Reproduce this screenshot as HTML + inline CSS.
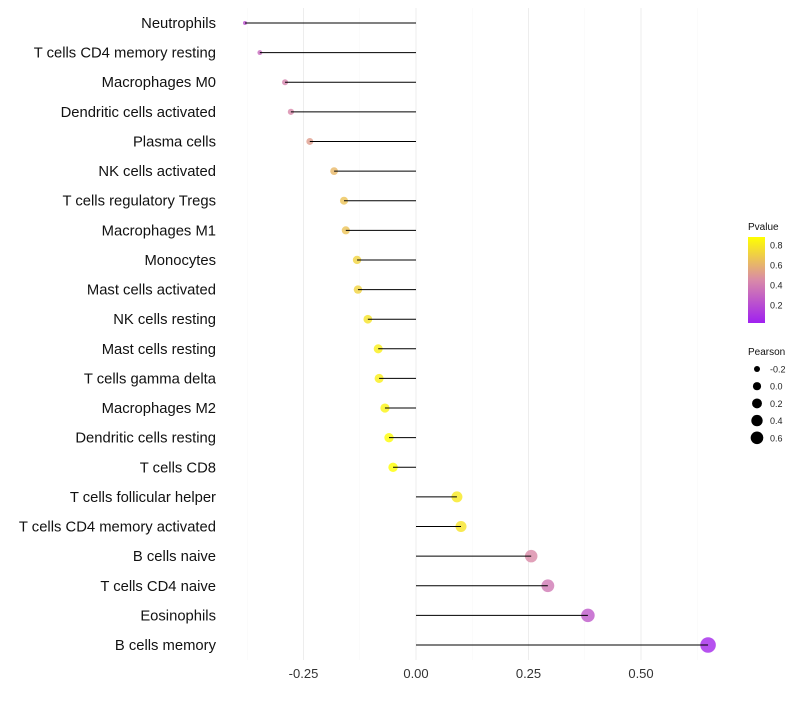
<!DOCTYPE html>
<html><head><meta charset="utf-8">
<style>
body{margin:0;background:#fff;font-family:"Liberation Sans",sans-serif;}
</style></head>
<body>
<svg id="chart" width="800" height="700" xmlns="http://www.w3.org/2000/svg" font-family="Liberation Sans, sans-serif">
<defs>
<linearGradient id="pg" x1="0" y1="1" x2="0" y2="0">
<stop offset="0" stop-color="#a020f0"/>
<stop offset="0.5" stop-color="#d98aa8"/>
<stop offset="1" stop-color="#ffff00"/>
</linearGradient>
</defs>
<g id="grid"></g>
<g id="points"></g>
<g id="marks"></g>
<g id="labels"></g>
<g id="legend">
<text x="748" y="230" font-size="10" fill="#111">Pvalue</text>
<rect x="748" y="237" width="17" height="86" fill="url(#pg)"/>
<text x="748" y="355" font-size="10" fill="#111">Pearson</text>
</g>
</svg>
<script>
const categories=["Neutrophils","T cells CD4 memory resting","Macrophages M0","Dendritic cells activated","Plasma cells","NK cells activated","T cells regulatory  Tregs","Macrophages M1","Monocytes","Mast cells activated","NK cells resting","Mast cells resting","T cells gamma delta","Macrophages M2","Dendritic cells resting","T cells CD8","T cells follicular helper","T cells CD4 memory activated","B cells naive","T cells CD4 naive","Eosinophils","B cells memory"];
const pearson=[-0.38,-0.347,-0.291,-0.278,-0.236,-0.182,-0.16,-0.156,-0.131,-0.129,-0.107,-0.084,-0.082,-0.069,-0.06,-0.051,0.091,0.1,0.256,0.293,0.382,0.649];
const pvalue=[0.22,0.32,0.42,0.44,0.52,0.62,0.66,0.66,0.72,0.72,0.78,0.82,0.82,0.84,0.87,0.9,0.8,0.78,0.45,0.38,0.25,0.05];
const xTicks=[-0.25,0,0.25,0.5];
const xTickLabels=["-0.25","0.00","0.25","0.50"];
const xMinor=[-0.375,-0.125,0.125,0.375,0.625];
const pvTicks=[0.2,0.4,0.6,0.8];
const sizeTicks=[-0.2,0,0.2,0.4,0.6];

const NS="http://www.w3.org/2000/svg";
const x=v=>416+v*450;
const y=i=>23+i*(622/21);
const r=v=>Math.sqrt(Math.max(3,25+55*v));
function lerp(a,b,t){return a.map((c,i)=>Math.round(c+(b[i]-c)*t));}
function col(p){const t=Math.max(0,Math.min(1,(p-0.02)/0.86));
 const A=[160,32,240],M=[217,138,168],B=[255,255,0];
 const c=t<0.5?lerp(A,M,t*2):lerp(M,B,(t-0.5)*2);return `rgb(${c})`;}
function el(t,a,p){const e=document.createElementNS(NS,t);for(const k in a)e.setAttribute(k,a[k]);p.appendChild(e);return e;}
const grid=document.getElementById('grid'),points=document.getElementById('points'),marks=document.getElementById('marks'),labels=document.getElementById('labels'),legend=document.getElementById('legend');
xMinor.forEach(v=>{const l=el('line',{x1:x(v),x2:x(v),y1:8,y2:660,stroke:'#f7f7f7','stroke-width':0.6},grid);

});
xTicks.forEach((v,i)=>{const l=el('line',{x1:x(v),x2:x(v),y1:8,y2:660,stroke:'#ededed','stroke-width':1},grid);


const t=el('text',{x:x(v),y:678,'font-size':13,fill:'#333','text-anchor':'middle'},labels);t.textContent=xTickLabels[i];

});
categories.forEach((c,i)=>{const t=el('text',{x:216,y:y(i)+5,'font-size':14.8,fill:'#111','text-anchor':'end'},labels);t.textContent=c;


const d=el('circle',{cx:x(pearson[i]),cy:y(i),r:r(pearson[i]),fill:col(pvalue[i]),'fill-opacity':0.8},points);


const l=el('line',{x1:x(0),x2:x(pearson[i]),y1:y(i),y2:y(i),stroke:'#000','stroke-width':1},marks);

});
pvTicks.forEach(p=>{const yy=325-p*100;
const t=el('text',{x:770,y:yy+3.5,'font-size':9,fill:'#222'},legend);t.textContent=p.toFixed(1);

});
sizeTicks.forEach((v,i)=>{const yy=369+i*17.2;
const c=el('circle',{cx:757,cy:yy,r:Math.sqrt(9+38.75*(v+0.2)),fill:'#000'},legend);


const t=el('text',{x:770,y:yy+3.5,'font-size':9,fill:'#222'},legend);t.textContent=v.toFixed(1);

});
</script>
</body></html>
